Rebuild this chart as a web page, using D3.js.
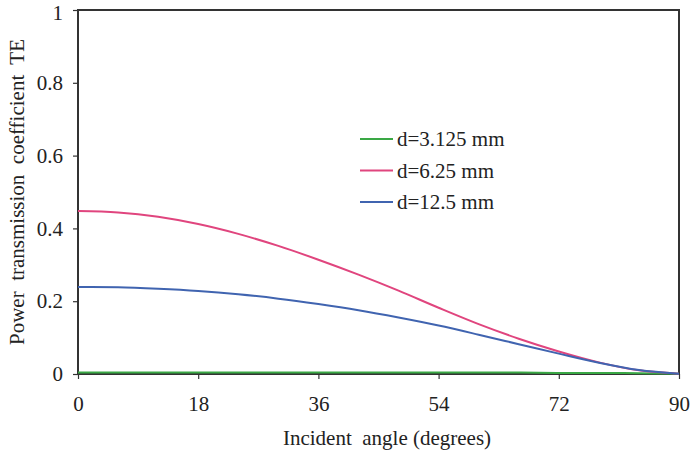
<!DOCTYPE html>
<html>
<head>
<meta charset="utf-8">
<script src="https://cdn.jsdelivr.net/npm/d3@7"></script>
</head>
<body style="margin:0;background:#fff">
<svg width="696" height="456"></svg>
<script>
// incident angle, degrees
const angles = [0, 6, 12, 18, 24, 30, 36, 42, 48, 54, 60, 66, 72, 78, 84, 90];
// power transmission coefficient
const d3125 = [0.004, 0.004, 0.004, 0.004, 0.004, 0.004, 0.004, 0.004, 0.004, 0.004, 0.004, 0.004, 0.003, 0.003, 0.002, 0.001];
const d625 = [0.448, 0.444, 0.432, 0.412, 0.385, 0.352, 0.314, 0.273, 0.229, 0.182, 0.137, 0.097, 0.062, 0.032, 0.010, 0.001];
const d125 = [0.239, 0.238, 0.234, 0.228, 0.219, 0.207, 0.192, 0.175, 0.155, 0.133, 0.108, 0.082, 0.056, 0.031, 0.011, 0.001];
const seriesNames = ["d=3.125 mm", "d=6.25 mm", "d=12.5 mm"];
const seriesColors = ["#3aa845", "#e0457e", "#4064b0"];
const xTicks = [0, 18, 36, 54, 72, 90];
const yTicks = [0, 0.2, 0.4, 0.6, 0.8, 1];

const FONT = "Liberation Serif";
const FS = 16;          // drawn size, then scaled up
const K = 21 / 16;      // text looks ~21px in the reference
const svg = d3.select("svg");
const m = {left: 78, right: 17, top: 10, bottom: 82};
const W = 696, H = 456;

const x = d3.scaleLinear().domain([0, 90]).range([m.left, W - m.right]);
const y = d3.scaleLinear().domain([0, 1]).range([H - m.bottom, m.top]);

const series = [d3125, d625, d125];

// plot frame
svg.append("rect")
    .attr("x", x(0)).attr("y", y(1))
    .attr("width", x(90) - x(0)).attr("height", y(0) - y(1))
    .attr("fill", "none").attr("stroke", "#333").attr("stroke-width", 2);

const xAxis = svg.append("g")
    .attr("transform", `translate(0,${y(0)})`)
    .call(d3.axisBottom(x).tickValues(xTicks).tickSize(5).tickPadding(17).tickFormat(d3.format("d")));
const yAxis = svg.append("g")
    .attr("transform", `translate(${x(0)},0)`)
    .call(d3.axisLeft(y).tickValues(yTicks).tickSize(5).tickPadding(10).tickFormat(d => d === 0 || d === 1 ? d : d.toFixed(1)));

[xAxis, yAxis].forEach(g => {
    g.attr("font-family", FONT).attr("font-size", FS);
    g.select(".domain").remove();
    g.selectAll(".tick line").attr("stroke", "#333").attr("stroke-width", 1.2);
    g.selectAll(".tick text").attr("fill", "#222");
});
// keep the top "1" inside the picture
yAxis.selectAll(".tick text").filter(d => d === 1).attr("dy", "0.45em");

const line = d3.line()
    .x((d, i) => x(angles[i]))
    .y(d => y(d))
    .curve(d3.curveMonotoneX);

series.forEach((s, k) => {
    svg.append("path")
        .datum(s)
        .attr("fill", "none")
        .attr("stroke", seriesColors[k])
        .attr("stroke-width", 2)
        .attr("d", line);
});

// legend
const leg = svg.append("g").attr("transform", "translate(360,139)");
seriesNames.forEach((n, k) => {
    const g = leg.append("g").attr("transform", `translate(0,${k * 31.5})`);
    g.append("line").attr("x1", 0).attr("x2", 33).attr("y1", 0).attr("y2", 0)
        .attr("stroke", seriesColors[k]).attr("stroke-width", 2);
    g.append("text").attr("x", 37).attr("y", 7).attr("fill", "#222").text(n);
});

// axis titles
svg.append("text")
    .attr("x", 387).attr("y", 445)
    .attr("text-anchor", "middle").attr("fill", "#222")
    .attr("xml:space", "preserve")
    .text("Incident  angle (degrees)");

svg.append("text")
    .attr("transform", "translate(24,192) rotate(-90)")
    .attr("text-anchor", "middle").attr("fill", "#222")
    .attr("xml:space", "preserve")
    .text("Power  transmission  coefficient  TE");

// draw every text small and scale it to the reference size
svg.selectAll("text").each(function() {
    const t = d3.select(this);
    const tx = +t.attr("x") || 0, ty = +t.attr("y") || 0;
    const prev = t.attr("transform") || "";
    t.attr("x", 0).attr("y", 0)
        .attr("font-family", FONT).attr("font-size", FS)
        .attr("transform", `${prev} translate(${tx},${ty}) scale(${K})`);
});
</script>
</body>
</html>
